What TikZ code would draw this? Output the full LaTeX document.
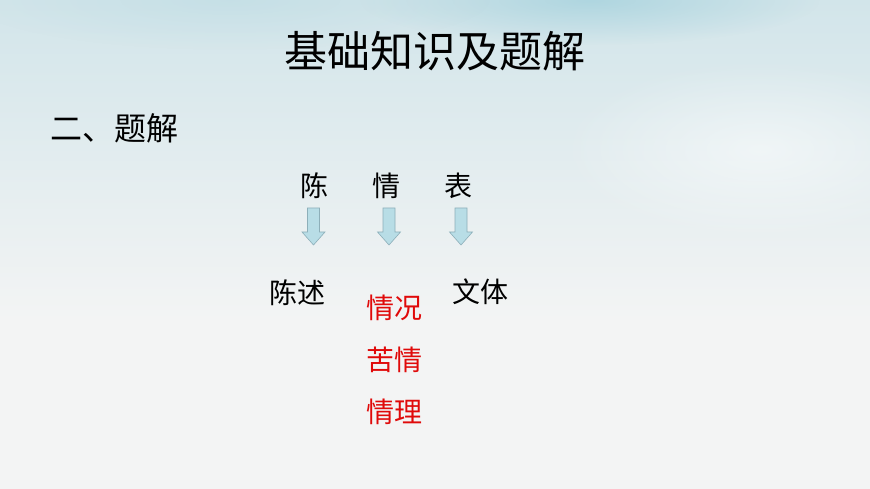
\documentclass[tikz,border=0pt]{standalone}
\usepackage{fontspec}
\newfontfamily\cjk{Noto Sans CJK SC}
\usetikzlibrary{fadings}
\definecolor{paper}{HTML}{F3F4F4}
\definecolor{wash}{HTML}{D2E5EA}
\definecolor{blot}{HTML}{AFD6E0}
\definecolor{arrowfill}{HTML}{B8DDE6}
\definecolor{arrowline}{HTML}{8DAFB9}
\definecolor{hotred}{HTML}{E00A0A}
\tikzfading[name=softblot, inner color=transparent!0, outer color=transparent!100]
\tikzset{
	word/.style={font=\cjk\fontsize{28}{32}\selectfont, inner sep=0pt},
	redword/.style={word, text=hotred},
	blockarrow/.style={draw=arrowline, fill=arrowfill, line width=0.6pt, line join=miter}
}
% block arrow pointing down, hanging from the named coordinate #1
\def\blockarrow#1{\draw[blockarrow] (#1) ++(-6,0) -- ++(0,24) -- ++(-5.5,0) -- ++(11.5,13) -- ++(11.5,-13) -- ++(-5.5,0) -- ++(0,-24) -- cycle;}

\begin{document}
\begin{tikzpicture}[x=1pt,y=-1pt]
			%%%%% START %%%%%
			
			\useasboundingbox (0,0) rectangle (870,489);
			
			% paper and wash
			\fill[paper] (0,0) rectangle (870,489);
			\shade[top color=wash, bottom color=paper] (0,0) rectangle (870,320);
			\fill[blot, path fading=softblot] (590,0) ellipse (230 and 45);
			\fill[blot, opacity=0.35, path fading=softblot] (230,0) ellipse (260 and 50);
			\fill[white, opacity=0.5, path fading=softblot] (760,150) ellipse (200 and 90);
			
			% headings
			\node[font=\cjk\fontsize{43}{50}\selectfont, inner sep=0pt] (title) at (435,51) {基础知识及题解};
			\node[font=\cjk\fontsize{32}{38}\selectfont, inner sep=0pt, anchor=west] (part) at (50,128) {二、题解};
			
			% characters
			\node[word] (chen) at (314,186) {陈};
			\node[word] (qing) at (386,186) {情};
			\node[word] (biao) at (458,186) {表};
			
			\coordinate (a1) at (313.5,208);
			\coordinate (a2) at (389,208);
			\coordinate (a3) at (461,208);
			\blockarrow{a1}
			\blockarrow{a2}
			\blockarrow{a3}
			
			% meanings
			\node[word] (chenshu) at (297.5,293) {陈述};
			\node[word] (wenti) at (480.5,292) {文体};
			\node[redword] (qingkuang) at (394.5,308) {情况};
			\node[redword] (kuqing) at (394.5,360) {苦情};
			\node[redword] (qingli) at (394.5,412) {情理};
			
			%%%%% END %%%%%
\end{tikzpicture}
\end{document}
